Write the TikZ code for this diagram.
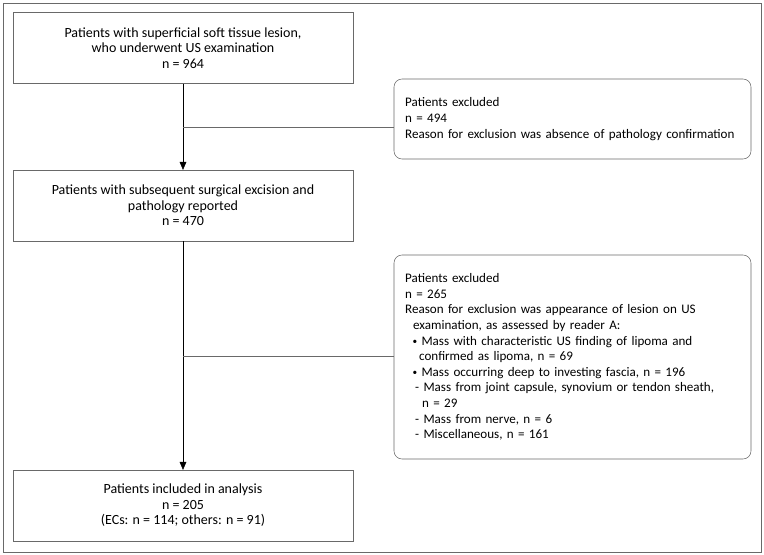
\documentclass[tikz,border=0pt]{standalone}
\usepackage{fontspec}
\setmainfont{Carlito}
\usetikzlibrary{arrows.meta}
\definecolor{boxgray}{RGB}{105,105,105}
\newcommand{\listdot}{\raisebox{0.6pt}{\fontsize{7}{7}\selectfont\textbullet}}

\begin{document}
\begin{tikzpicture}[x=0.75pt,y=-0.75pt,
  mainbox/.style={draw=boxgray,thin,minimum width=255pt,minimum height=53pt,
    align=center,font=\fontsize{10.5}{11.6}\selectfont},
  exclbox/.style={draw=boxgray,thin,rounded corners=6pt,minimum width=267.75pt,
    text width=257pt,inner xsep=5.375pt,align=left,font=\fontsize{9.8}{11.7}\selectfont},
  flow/.style={-{Triangle[length=6pt,width=5pt]},black,thin}]
\useasboundingbox (0,0) rectangle (764,555);
\draw[boxgray] (3,3) rectangle (761,552);
% main column
\node (lesion) [mainbox] at (183,48) {Patients with superficial soft tissue lesion,\\
  who underwent US examination\\ n = 964};
\node (excision) [mainbox] at (183,205.5) {Patients with subsequent surgical excision and\\
  pathology reported\\ n = 470};
\node (included) [mainbox] at (183,505.5) {Patients included in analysis\\
  n = 205\\ (ECs: n = 114; others: n = 91)};
% exclusions
\node (excl1) [exclbox,minimum height=60pt] at (572.5,119) {\hspace*{3pt}Patients excluded\\
  \hspace*{3pt}n = 494\\
  \hspace*{3pt}Reason for exclusion was absence of pathology confirmation};
\node (excl2) [exclbox,minimum height=153pt] at (572.5,357) {\hspace*{3pt}Patients excluded\\
  \hspace*{3pt}n = 265\\
  \hspace*{3pt}Reason for exclusion was appearance of lesion on US\\
  \hspace*{9pt}examination, as assessed by reader A:\\
  \hspace*{8.5pt}\listdot\ Mass with characteristic US finding of lipoma and\\
  \hspace*{13.5pt}confirmed as lipoma, n = 69\\
  \hspace*{8.5pt}\listdot\ Mass occurring deep to investing fascia, n = 196\\
  \hspace*{10.5pt}- Mass from joint capsule, synovium or tendon sheath,\\
  \hspace*{15.75pt}n = 29\\
  \hspace*{10.5pt}- Mass from nerve, n = 6\\
  \hspace*{10.5pt}- Miscellaneous, n = 161};
%
\coordinate (split1) at (lesion.south |- 0,127);
\coordinate (split2) at (excision.south |- 0,356);
\path[flow] (lesion) edge (excision);
\path[flow] (excision) edge (included);
\draw[boxgray] (split1) -- (split1 -| excl1.west);
\draw[boxgray] (split2) -- (split2 -| excl2.west);
\end{tikzpicture}
\end{document}
